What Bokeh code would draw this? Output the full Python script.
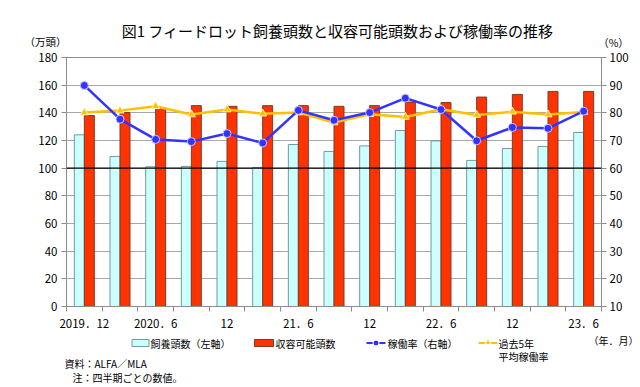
from bokeh.plotting import figure
from bokeh.models import Range1d, LinearAxis, FixedTicker, Span, ColumnDataSource
from bokeh.layouts import column, row
from bokeh.transform import dodge
from bokeh.core.properties import value
from bokeh.embed import file_html
from bokeh.resources import INLINE

# ---- data ----
quarters = ["2019.12", "2020.3", "2020.6", "2020.9", "2020.12", "2021.3", "2021.6", "2021.9",
            "2021.12", "2022.3", "2022.6", "2022.9", "2022.12", "2023.3", "2023.6"]
feedlot_head = [124.1, 108.5, 101.0, 101.3, 104.9, 100.5, 117.1, 112.1,
                116.1, 127.2, 119.7, 105.6, 114.2, 115.7, 125.8]
capacity_head = [138.0, 140.2, 143.5, 145.2, 144.7, 145.2, 145.2, 144.7,
                 145.2, 147.8, 147.4, 151.4, 153.3, 155.5, 155.5]
utilization = [89.9, 77.7, 70.4, 69.6, 72.5, 69.1, 80.9, 77.3,
               80.1, 85.3, 81.2, 69.9, 74.7, 74.4, 80.6]
avg5_utilization = [80.1, 80.8, 82.4, 79.4, 81.2, 79.7, 80.1, 76.5,
                    79.5, 78.5, 81.3, 79.2, 80.4, 79.4, 80.3]
tick_labels = ["2019．12", "2020．6", "12", "21．6", "12", "22．6", "12", "23．6"]
legend_labels = ["飼養頭数（左軸）", "収容可能頭数", "稼働率（右軸）", "過去5年"]

FONT = "Noto Sans CJK JP"
W = 640
CYAN, CYAN_LINE = "#ccffff", "#6f9c9c"
RED, RED_LINE = "#ff3300", "#7a3b2a"
BLUE, YELLOW = "#3333ff", "#ffc000"
AXIS_GRAY = "#8c8c8c"

xs = [i + 0.5 for i in range(len(quarters))]
src = ColumnDataSource(dict(x=xs, q=quarters, feed=feedlot_head, cap=capacity_head,
                            rate=utilization, avg=avg5_utilization))


def text_fig(top, bottom):
    f = figure(width=W, height=bottom - top, output_backend="svg", toolbar_location=None,
               x_range=Range1d(0, W), y_range=Range1d(bottom, top),
               x_axis_location=None, y_axis_location=None,
               min_border_left=0, min_border_right=0, min_border_top=0, min_border_bottom=0)
    f.grid.visible = False
    f.outline_line_color = None
    return f


def put(f, text, px, py, size="10px", align="left"):
    f.text(x=[px], y=[py], text=[text], text_font=value(FONT), text_font_size=size,
           text_align=align, text_baseline="middle", text_color="black")


# ---- top strip (title and axis units) ----
top = text_fig(0, 49)
put(top, "図1 フィードロット飼養頭数と収容可能頭数および稼働率の推移", 337, 30, size="15px", align="center")
put(top, "（万頭）", 45, 41, size="10.5px", align="center")
put(top, "（%）", 613, 42, size="10.5px", align="center")

# ---- main chart ----
p = figure(width=W, height=284, output_backend="svg", toolbar_location=None,
           x_range=Range1d(0, len(quarters)), y_range=Range1d(0, 180),
           min_border_left=66, min_border_right=39, min_border_top=8, min_border_bottom=26)
p.extra_y_ranges = {"right": Range1d(10, 100)}
p.outline_line_color = AXIS_GRAY
p.xgrid.visible = False
p.ygrid.grid_line_color = "#a8a8a8"
p.ygrid.grid_line_width = 1.2

p.vbar(x=dodge("x", -0.14, range=p.x_range), top="feed", width=0.28, source=src,
       fill_color=CYAN, line_color=CYAN_LINE, line_width=1)
p.vbar(x=dodge("x", 0.14, range=p.x_range), top="cap", width=0.28, source=src,
       fill_color=RED, line_color=RED_LINE, line_width=1)
p.add_layout(Span(location=100, dimension="width", line_color="black", line_width=1.3))

p.line("x", "avg", source=src, y_range_name="right", line_color=YELLOW, line_width=2.5)
p.scatter("x", "avg", source=src, y_range_name="right", marker="triangle", size=8,
          fill_color=YELLOW, line_color="#fff2b0", line_width=1)
p.line("x", "rate", source=src, y_range_name="right", line_color=BLUE, line_width=2.5)
p.scatter("x", "rate", source=src, y_range_name="right", marker="circle", size=8,
          fill_color=BLUE, line_color="#c8c8ff", line_width=1)

ax = p.xaxis[0]
ax.ticker = FixedTicker(ticks=xs[::2], minor_ticks=list(range(len(quarters) + 1)))
ax.major_label_overrides = {x: t for x, t in zip(xs[::2], tick_labels)}
ax.major_tick_line_color = None
ax.major_tick_out = 5
ax.minor_tick_line_color = AXIS_GRAY
ax.minor_tick_out = 5
ax.minor_tick_in = 0
ax.axis_line_color = AXIS_GRAY
ax.major_label_standoff = 3
ax.major_label_text_font = FONT
ax.major_label_text_font_size = "11.5px"
ax.major_label_text_color = "black"

ay = p.yaxis[0]
ay.ticker = FixedTicker(ticks=list(range(0, 181, 20)))
ry = LinearAxis(y_range_name="right", ticker=FixedTicker(ticks=list(range(10, 101, 10))))
p.add_layout(ry, "right")
for a, st in ((ay, 4), (ry, 3)):
    a.axis_line_color = AXIS_GRAY
    a.major_tick_line_color = AXIS_GRAY
    a.major_tick_out = 5
    a.major_tick_in = 0
    a.minor_tick_line_color = None
    a.major_label_standoff = st
    a.major_label_text_font = FONT
    a.major_label_text_font_size = "11.5px"
    a.major_label_text_color = "black"

# ---- bottom strip (legend and notes) ----
bot = text_fig(333, 387)
LY = 342.5
# swatches
bot.quad(left=[131.5, 254], right=[148.5, 273], top=[LY - 3.5, LY - 3.5], bottom=[LY + 3.5, LY + 3.5],
         fill_color=[CYAN, RED], line_color=[CYAN_LINE, RED_LINE], line_width=1)
bot.segment(x0=[366, 478], y0=[LY, LY], x1=[385, 497], y1=[LY, LY],
            line_color=[BLUE, YELLOW], line_width=2)
bot.scatter(x=[375.5], y=[LY], marker="circle", size=6, fill_color=BLUE, line_color="white", line_width=1)
bot.scatter(x=[487.5], y=[LY - 0.5], marker="triangle", size=6, fill_color=YELLOW, line_color="white",
            line_width=1)
for lbl, lx in zip(legend_labels, [150, 275, 387, 498]):
    put(bot, lbl, lx, LY)
put(bot, "平均稼働率", 498, 356)
put(bot, "（年．月）", 613, 340, size="10px", align="center")
put(bot, "資料：ALFA／MLA", 64, 363)
put(bot, "注：四半期ごとの数値。", 72, 377)

layout = column(row(top), p, row(bot), spacing=0)
open("out.html", "w").write(file_html(layout, INLINE))
